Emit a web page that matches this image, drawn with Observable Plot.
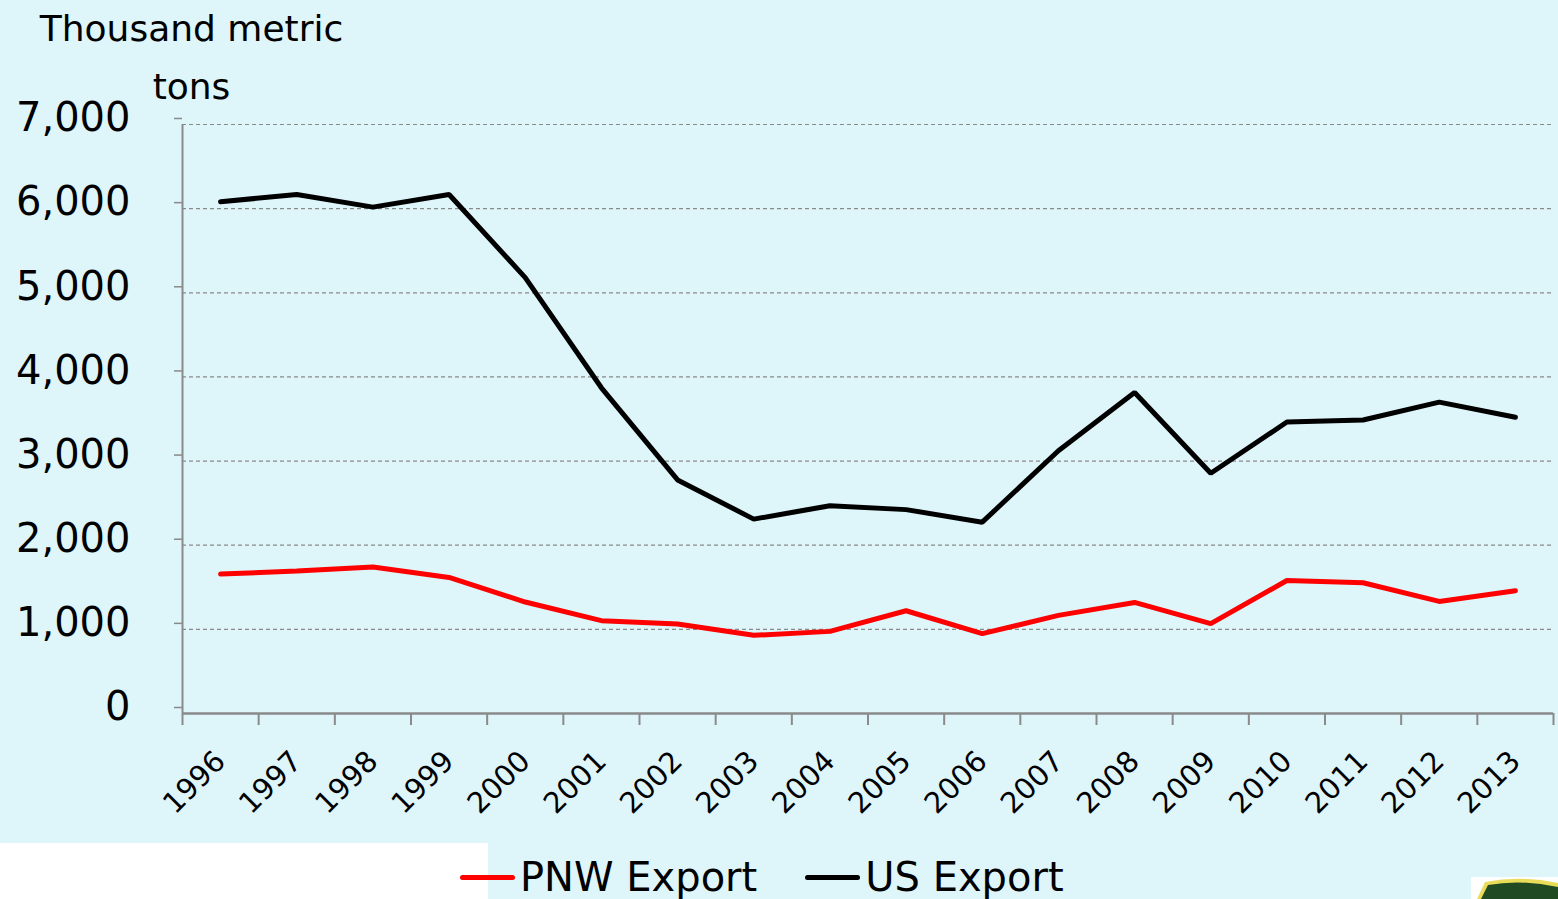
<!DOCTYPE html>
<html>
<head>
<meta charset="utf-8">
<script src="https://cdn.jsdelivr.net/npm/d3@7"></script>
<script src="https://cdn.jsdelivr.net/npm/@observablehq/plot@0.6"></script>
<style>
  html, body { margin: 0; padding: 0; }
  body { width: 1558px; height: 899px; background: #DEF5FA; position: relative; overflow: hidden; font-family: "DejaVu Sans", sans-serif; color: #000; }
  #chart { position: absolute; left: 0; top: 0; }
  #ytitle { position: absolute; left: 0; top: 0px; width: 383px; text-align: center; font-size: 36px; line-height: 58px; }
  #white { position: absolute; left: 0; top: 843px; width: 488px; height: 56px; background: #fff; }
  #legend { position: absolute; left: 460px; top: 851px; display: flex; align-items: center; font-size: 40px; line-height: 52px; white-space: nowrap; }
  .sw { display: inline-block; width: 55px; height: 5px; border-radius: 3px; margin-right: 5px; }
  #logo { position: absolute; left: 1471px; top: 877px; width: 87px; height: 22px; background: #fff; overflow: hidden; }
</style>
</head>
<body>
<div id="chart"></div>
<div id="ytitle">Thousand metric<br>tons</div>
<div id="white"></div>
<div id="legend"></div>
<div id="logo"><svg width="87" height="22"><path d="M6,22 L14,5 Q50,-2 87,6 L87,22 Z" fill="#e9dc5a"/><path d="M10,22 L17,8 Q50,2 87,10 L87,22 Z" fill="#1f4a22"/></svg></div>
<script>
const years = [1996,1997,1998,1999,2000,2001,2002,2003,2004,2005,2006,2007,2008,2009,2010,2011,2012,2013];
const pnwExport = [1657,1693,1740,1617,1325,1103,1064,929,976,1221,949,1166,1320,1068,1581,1554,1332,1459];
const usExport  = [6082,6168,6018,6168,5180,3871,2776,2310,2470,2423,2274,3123,3816,2855,3464,3488,3701,3520];
const yTicks = [0,1000,2000,3000,4000,5000,6000,7000];
const seriesNames = ["PNW Export","US Export"];
const seriesColors = ["#FF0000","#000000"];

const rows = [];
years.forEach((y,i) => {
  rows.push({year: y, value: pnwExport[i], series: seriesNames[0]});
  rows.push({year: y, value: usExport[i], series: seriesNames[1]});
});
const boundaries = [...years.map(y => y - 0.5), years[years.length-1] + 0.5];

const chart = Plot.plot({
  width: 1558,
  height: 843,
  marginTop: 124,
  marginBottom: 130,
  marginLeft: 182,
  marginRight: 5,
  style: {background: "transparent", fontFamily: "DejaVu Sans, sans-serif", color: "#000"},
  x: {domain: [boundaries[0], boundaries[boundaries.length-1]]},
  y: {domain: [0, 7000]},
  color: {domain: seriesNames, range: seriesColors},
  marks: [
    Plot.gridY(yTicks.filter(d => d > 0), {stroke: "#8a8a8a", strokeOpacity: 1, strokeDasharray: "4,3", strokeWidth: 1.2}),
    Plot.axisY(yTicks, {tickFormat: d3.format(","), tickSize: 8, tickPadding: 44, fontSize: 40, dy: -6, stroke: "#8a8a8a", strokeWidth: 1.5, label: null}),
    Plot.ruleX([boundaries[0]], {stroke: "#8a8a8a", strokeWidth: 2}),
    Plot.ruleY([0], {stroke: "#8a8a8a", strokeWidth: 2.5}),
    Plot.axisX(boundaries, {tickSize: 12, tickFormat: () => "", stroke: "#8a8a8a", strokeWidth: 2, label: null}),
    Plot.axisX(years, {tickSize: 0, tickPadding: 43, tickRotate: -45, tickFormat: d => String(d), fontSize: 29, label: null}),
    Plot.line(rows, {x: "year", y: "value", z: "series", stroke: "series", strokeWidth: 5, strokeLinejoin: "miter", strokeLinecap: "round"})
  ]
});
document.getElementById("chart").appendChild(chart);

const legend = document.getElementById("legend");
seriesNames.forEach((name, i) => {
  const item = document.createElement("span");
  item.style.display = "inline-flex";
  item.style.alignItems = "center";
  item.style.marginRight = i === 0 ? "48px" : "0";
  item.innerHTML = `<span class="sw" style="background:${seriesColors[i]}"></span><span>${name}</span>`;
  legend.appendChild(item);
});
</script>
</body>
</html>
